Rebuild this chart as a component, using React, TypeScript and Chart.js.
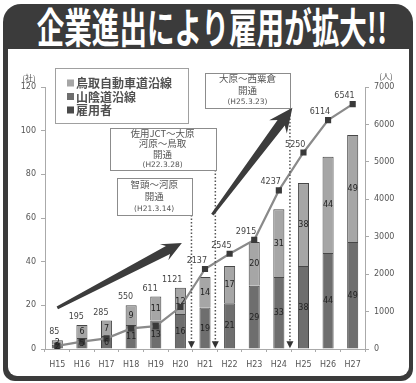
import React, { useEffect, useRef } from "react";
import { Chart, registerables } from "chart.js";

Chart.register(...registerables);

// ---- data ----
const categories = ["H15", "H16", "H17", "H18", "H19", "H20", "H21", "H22", "H23", "H24", "H25", "H26", "H27"];
const sanindo = [2, 5, 6, 11, 13, 16, 19, 21, 29, 33, 38, 44, 49];
const tottoriExpressway = [2, 6, 7, 9, 11, 12, 14, 17, 20, 31, 38, 44, 49];
const employees = [85, 195, 285, 550, 611, 1121, 2137, 2545, 2915, 4237, 5250, 6114, 6541];
const legendLabels = ["鳥取自動車道沿線", "山陰道沿線", "雇用者"];
const leftAxisTitle = "(社)";
const rightAxisTitle = "(人)";
const titleText = "企業進出により雇用が拡大!!";

// opening annotations (in category-index / left-axis units)
const openings = [
  { lines: ["大原～西粟倉", "開通"], date: "(H25.3.23)", x0: 6.0, x1: 9.45, y0: 126.4, y1: 110.4 },
  { lines: ["佐用JCT～大原", "河原～鳥取", "開通"], date: "(H22.3.28)", x0: 2.13, x1: 6.42, y0: 101.2, y1: 82.0 },
  { lines: ["智頭～河原", "開通"], date: "(H21.3.14)", x0: 2.42, x1: 5.45, y0: 78.3, y1: 61.4 },
];
const arrows = [
  { x0: 0, y0: 18.8, x1: 5.06, y1: 48.6, head: 20, half: 9 },
  { x0: 6.3, y0: 61.5, x1: 9.55, y1: 110.5, head: 24, half: 11 },
];

const COLORS = {
  light: "#a6a6a6",
  mid: "#6e6e6e",
  dark: "#3c3c3c",
  line: "#8a8a8a",
  border: "#474747",
  axis: "#aaaaaa",
  text: "#555555",
};

const CJK = '"Noto Sans CJK JP", sans-serif';
const NUM = '"DejaVu Sans", sans-serif';

const decorPlugin = {
  id: "decor",
  afterDatasetsDraw(chart: any) {
    const ctx = chart.ctx as CanvasRenderingContext2D;
    const xs = chart.scales.x;
    const ys = chart.scales.y;
    const ca = chart.chartArea;
    const X = (v: number) => xs.getPixelForValue(v);
    const Y = (v: number) => ys.getPixelForValue(v);
    ctx.save();

    // bar segment labels
    ctx.font = `8px ${NUM}`;
    ctx.fillStyle = "#222";
    ctx.textAlign = "center";
    ctx.textBaseline = "middle";
    [1, 2].forEach((di) => {
      const meta = chart.getDatasetMeta(di);
      const vals = chart.data.datasets[di].data as number[];
      meta.data.forEach((el: any, j: number) => {
        const p = el.getProps(["x", "y", "base"], true);
        ctx.fillText(String(vals[j]), p.x, (p.y + p.base) / 2 + 0.5);
      });
    });

    // line value labels
    const lm = chart.getDatasetMeta(0);
    ctx.font = `8px ${NUM}`;
    ctx.fillStyle = "#444";
    ctx.textAlign = "right";
    lm.data.forEach((el: any, j: number) => {
      const top = Y(sanindo[j] + tottoriExpressway[j]);
      const ty = Math.min(el.y, top) - 8;
      ctx.fillText(String(employees[j]), el.x + 2, ty);
    });

    // dotted drop lines + triangles
    openings.forEach((o) => {
      const x = X(o.x1);
      const yTop = Y(o.y1);
      const tip = Y(0.4);
      ctx.strokeStyle = "#555";
      ctx.lineWidth = 1.5;
      ctx.setLineDash([1.5, 2]);
      ctx.beginPath();
      ctx.moveTo(x, yTop);
      ctx.lineTo(x, tip - 6);
      ctx.stroke();
      ctx.setLineDash([]);
      ctx.fillStyle = "#333";
      ctx.beginPath();
      ctx.moveTo(x - 3.5, tip - 7);
      ctx.lineTo(x + 3.5, tip - 7);
      ctx.lineTo(x, tip);
      ctx.closePath();
      ctx.fill();
    });

    // boxes
    openings.forEach((o) => {
      const l = X(o.x0), r = X(o.x1), t = Y(o.y0), b = Y(o.y1);
      ctx.fillStyle = "#fff";
      ctx.fillRect(l, t, r - l, b - t);
      ctx.strokeStyle = "#8c8c8c";
      ctx.lineWidth = 1;
      ctx.strokeRect(Math.round(l) + 0.5, Math.round(t) + 0.5, Math.round(r - l), Math.round(b - t));
      const all = [...o.lines, o.date];
      const h = b - t;
      ctx.textAlign = "center";
      ctx.textBaseline = "middle";
      ctx.fillStyle = "#555";
      all.forEach((s, k) => {
        const cy = t + (h * (k + 0.5)) / all.length;
        ctx.font = k === all.length - 1 ? `7.5px ${NUM}` : `9.5px ${CJK}`;
        ctx.fillText(s, (l + r) / 2, cy);
      });
    });

    // big arrows
    arrows.forEach((a) => {
      const tx = X(a.x0), ty = Y(a.y0), px = X(a.x1), py = Y(a.y1);
      const dx = px - tx, dy = py - ty;
      const len = Math.hypot(dx, dy);
      const ux = dx / len, uy = dy / len;
      const nx = -uy, ny = ux;
      const neckX = px - ux * a.head, neckY = py - uy * a.head;
      const backX = px - ux * (a.head * 0.78), backY = py - uy * (a.head * 0.78);
      ctx.fillStyle = COLORS.dark;
      ctx.beginPath();
      ctx.moveTo(tx + nx * 1.5, ty + ny * 1.5);
      ctx.lineTo(backX + nx * 4.5, backY + ny * 4.5);
      ctx.lineTo(neckX + nx * a.half, neckY + ny * a.half);
      ctx.lineTo(px, py);
      ctx.lineTo(neckX - nx * a.half, neckY - ny * a.half);
      ctx.lineTo(backX - nx * 4.5, backY - ny * 4.5);
      ctx.lineTo(tx - nx * 1.5, ty - ny * 1.5);
      ctx.closePath();
      ctx.fill();
    });

    // legend box
    const lx = ca.left + 10, ly = ca.top - 19, lw = 133, lh = 55;
    ctx.fillStyle = "#fff";
    ctx.fillRect(lx, ly, lw, lh);
    ctx.strokeStyle = "#a0a0a0";
    ctx.lineWidth = 1;
    ctx.strokeRect(Math.round(lx) + 0.5, Math.round(ly) + 0.5, lw, lh);
    const swatches = [COLORS.light, COLORS.mid, "#4a4a4a"];
    legendLabels.forEach((s, k) => {
      const cy = ly + 15 + k * 13.5;
      ctx.fillStyle = swatches[k];
      ctx.fillRect(lx + 12, cy - 3.5, 7, 7);
      ctx.fillStyle = "#505050";
      ctx.font = `bold 12px ${CJK}`;
      ctx.textAlign = "left";
      ctx.textBaseline = "middle";
      ctx.fillText(s, lx + 21, cy + 0.5);
    });

    // axis titles
    ctx.fillStyle = "#555";
    ctx.font = `8px ${CJK}`;
    ctx.textAlign = "center";
    ctx.textBaseline = "middle";
    ctx.fillText(leftAxisTitle, ca.left - 16, ca.top - 9);
    ctx.fillText(rightAxisTitle, ca.right + 21, ca.top - 11);

    ctx.restore();
  },
};

export default function App() {
  const ref = useRef<HTMLCanvasElement | null>(null);

  useEffect(() => {
    document.body.style.margin = "0";
    const canvas = ref.current;
    if (!canvas) return;
    const tickFont = { family: NUM, size: 8 };
    const plain = (v: any) => String(v);
    const chart = new Chart(canvas, {
      type: "bar",
      data: {
        labels: categories,
        datasets: [
          {
            type: "line",
            label: legendLabels[2],
            data: employees,
            yAxisID: "yR",
            borderColor: COLORS.line,
            borderWidth: 2.2,
            pointStyle: "rect",
            pointRadius: 2.8,
            pointBackgroundColor: "#3a3a3a",
            pointBorderColor: "#3a3a3a",
            tension: 0,
            order: 0,
          } as any,
          {
            label: legendLabels[1],
            data: sanindo,
            yAxisID: "y",
            stack: "s",
            backgroundColor: COLORS.mid,
            borderColor: COLORS.border,
            borderWidth: 1,
            barPercentage: 0.45,
            categoryPercentage: 1,
            order: 1,
          },
          {
            label: legendLabels[0],
            data: tottoriExpressway,
            yAxisID: "y",
            stack: "s",
            backgroundColor: COLORS.light,
            borderColor: COLORS.border,
            borderWidth: 1,
            barPercentage: 0.45,
            categoryPercentage: 1,
            order: 1,
          },
        ],
      },
      options: {
        animation: false,
        responsive: false,
        maintainAspectRatio: false,
        layout: { padding: { top: 87, left: 0, right: 0, bottom: 0 } },
        plugins: { legend: { display: false }, tooltip: { enabled: false } },
        scales: {
          x: {
            stacked: true,
            grid: { offset: true, drawOnChartArea: false, drawTicks: true, tickLength: 3, color: COLORS.axis },
            border: { color: COLORS.axis, width: 1 },
            ticks: { font: tickFont, color: COLORS.text, padding: 8, maxRotation: 0 },
            afterFit: (s: any) => {
              s.height = 34;
            },
          },
          y: {
            position: "left",
            stacked: true,
            min: 0,
            max: 120,
            ticks: { stepSize: 20, font: tickFont, color: COLORS.text, padding: 5, callback: plain },
            grid: { drawOnChartArea: false, tickLength: 4, color: COLORS.axis },
            border: { color: COLORS.axis, width: 1 },
            afterFit: (s: any) => {
              s.width = 45;
            },
          },
          yR: {
            position: "right",
            min: 0,
            max: 7000,
            ticks: { stepSize: 1000, font: tickFont, color: COLORS.text, padding: 5, callback: plain },
            grid: { drawOnChartArea: false, tickLength: 4, color: COLORS.axis },
            border: { color: COLORS.axis, width: 1 },
            afterFit: (s: any) => {
              s.width = 51;
            },
          },
        },
      },
      plugins: [decorPlugin],
    });
    return () => chart.destroy();
  }, []);

  return (
    <div style={{ position: "relative", width: 416, height: 383, background: "#fff", overflow: "hidden" }}>
      <div
        style={{
          position: "absolute",
          left: 3,
          top: 4,
          width: 410,
          height: 377,
          background: "#3b3b3b",
          borderRadius: "18px 18px 12px 12px",
        }}
      />
      <div
        style={{
          position: "absolute",
          left: 8,
          top: 49,
          width: 401,
          height: 327,
          background: "#fff",
          borderRadius: "0 0 9px 9px",
        }}
      />
      <div
        style={{
          position: "absolute",
          left: 0,
          top: 4,
          width: 424,
          height: 45,
          lineHeight: "45px",
          textAlign: "center",
          color: "#fff",
          fontFamily: CJK,
          fontWeight: 700,
          fontSize: 29,
          whiteSpace: "nowrap",
          transform: "scale(0.95, 1.42)",
          transformOrigin: "50% 55%",
        }}
      >
        {titleText}
      </div>
      <canvas ref={ref} width={416} height={383} style={{ position: "absolute", left: 0, top: 0, width: 416, height: 383 }} />
    </div>
  );
}
